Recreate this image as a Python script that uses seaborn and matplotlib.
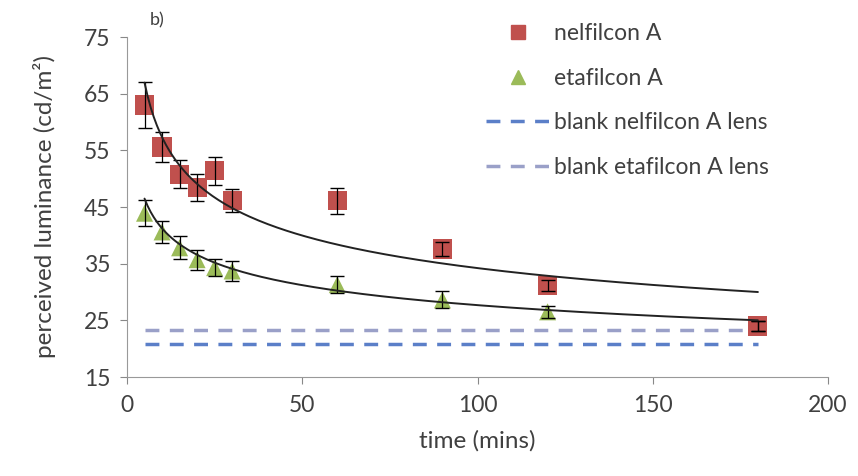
import numpy as np
import pandas as pd
import seaborn as sns
import matplotlib.pyplot as plt
from matplotlib.lines import Line2D

# values
time = [5, 10, 15, 20, 25, 30, 60, 90, 120, 180]
nelfilcon = [63.0, 55.6, 50.8, 48.4, 51.4, 46.1, 46.1, 37.6, 31.1, 24.0]
nelfilcon_err = [4.0, 2.7, 2.5, 2.4, 2.5, 2.0, 2.3, 1.3, 1.0, 0.8]
etafilcon = [43.9, 40.6, 37.8, 35.7, 34.3, 33.7, 31.3, 28.6, 26.5, 24.0]
etafilcon_err = [2.3, 2.0, 2.0, 1.8, 1.5, 1.8, 1.5, 1.5, 1.0, 0.8]
blank_nelfilcon = 20.8
blank_etafilcon = 23.3
# power trendline y = a*x^b, parameters estimated from the drawn curves
fit_nelfilcon = (96.0, -0.224)
fit_etafilcon = (61.4, -0.173)

sns.set_style('ticks')
plt.rcParams['font.family'] = ['Lato', 'DejaVu Sans']

red = '#c0504d'
green = '#9bbb59'
txt = '#404040'

fig = plt.figure(figsize=(8.58, 4.76), dpi=100)
ax = fig.add_axes([127/858, 1-377/476, (828-127)/858, (377-37)/476])

df = pd.DataFrame({'time': time, 'nel': nelfilcon, 'eta': etafilcon})

xs = np.linspace(time[0], time[-1], 200)
curves = pd.DataFrame({'time': xs,
                       'nel': fit_nelfilcon[0]*xs**fit_nelfilcon[1],
                       'eta': fit_etafilcon[0]*xs**fit_etafilcon[1]})

ax.plot([time[0], time[-1]], [blank_etafilcon]*2, ls=(0, (4, 3)), lw=2.5, color='#9aa0c8', zorder=1)
ax.plot([time[0], time[-1]], [blank_nelfilcon]*2, ls=(0, (4, 3)), lw=2.5, color='#5b7fc8', zorder=1)

sns.scatterplot(data=df, x='time', y='eta', marker='^', s=150, color=green, edgecolor='none', ax=ax, zorder=2)
ax.errorbar(time, etafilcon, yerr=etafilcon_err, fmt='none', ecolor='black', elinewidth=0.9, capsize=5, zorder=3)
sns.scatterplot(data=df, x='time', y='nel', marker='s', s=190, color=red, edgecolor='none', ax=ax, zorder=2)
ax.errorbar(time, nelfilcon, yerr=nelfilcon_err, fmt='none', ecolor='black', elinewidth=0.9, capsize=5, zorder=3)

sns.lineplot(data=curves, x='time', y='nel', color='#222222', lw=1.4, ax=ax, zorder=4)
sns.lineplot(data=curves, x='time', y='eta', color='#222222', lw=1.4, ax=ax, zorder=4)

ax.set_xlim(0, 200)
ax.set_ylim(15, 75)
ax.set_xticks([0, 50, 100, 150, 200])
ax.set_yticks([15, 25, 35, 45, 55, 65, 75])
ax.tick_params(labelsize=16.5, colors='#888888', labelcolor=txt, length=5)
ax.tick_params(axis='x', pad=8)
ax.tick_params(axis='y', pad=7)
for s in ['top', 'right']:
    ax.spines[s].set_visible(False)
for s in ['left', 'bottom']:
    ax.spines[s].set_color('#999999')
ax.set_xlabel('time (mins)', fontsize=17.5, color=txt, labelpad=10)
ax.set_ylabel('perceived luminance (cd/m²)', fontsize=17.5, color=txt, labelpad=20)
fig.text(150/858, 1-20/476, 'b)', fontsize=13, color=txt, va='center')

handles = [Line2D([], [], ls='none', marker='s', ms=10, color=red),
           Line2D([], [], ls='none', marker='^', ms=10, color=green),
           Line2D([], [], ls=(0, (4, 3)), lw=2.5, color='#5b7fc8'),
           Line2D([], [], ls=(0, (4, 3)), lw=2.5, color='#9aa0c8')]
labels = ['nelfilcon A', 'etafilcon A', 'blank nelfilcon A lens', 'blank etafilcon A lens']
leg = fig.legend(handles, labels, loc='upper left', bbox_to_anchor=(486/858, 1-23/476),
                 frameon=False, fontsize=16.5, handlelength=2.75, handletextpad=0.2,
                 labelspacing=1.03, borderpad=0, borderaxespad=0)
for t in leg.get_texts():
    t.set_color(txt)

fig.savefig('out.png', dpi=100)
